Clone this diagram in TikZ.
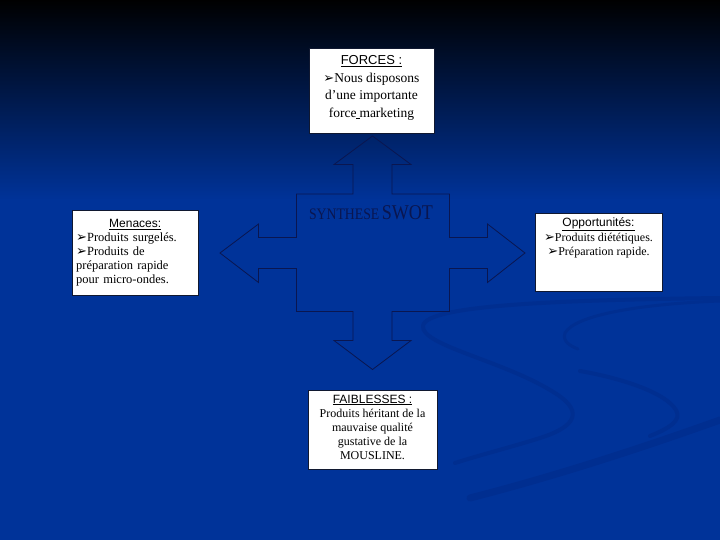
\documentclass[tikz,border=0pt]{standalone}
\usepackage{fontspec}
\setmainfont{Liberation Serif}
\newfontfamily\hdfont{Liberation Sans}
\newfontfamily\symfont{DejaVu Sans}
\newfontfamily\swotfont[FakeStretch=0.86]{Liberation Serif}
\definecolor{bgblue}{RGB}{0,51,153}
\definecolor{bgmid}{RGB}{0,30,92}
\definecolor{navy}{RGB}{10,22,80}
\definecolor{boxline}{RGB}{16,24,48}
\definecolor{swoosh}{RGB}{0,46,144}
\newcommand{\arr}{{\symfont\fontsize{13}{13}\selectfont ➢}}
\begin{document}
\begin{tikzpicture}[x=1pt,y=-1pt,
  box/.style={draw=boxline, fill=white, line width=0.8pt, inner sep=0pt, anchor=north west},
  txt/.style={anchor=north, inner sep=0pt, align=center, text=black},
  sw/.style={draw=swoosh, line cap=round, line join=round}]
\useasboundingbox (0,0) rectangle (720,540);
% background
\shade[top color=black, middle color=bgmid, bottom color=bgblue] (0,0) rectangle (720,200);
\fill[bgblue] (0,199.5) rectangle (720,540);
% swooshes
\draw[sw, line width=4pt] (720,298) .. controls (560,300) and (425,305) .. (423,326)
   .. controls (421,345) and (500,360) .. (550,390)
   .. controls (585,410) and (578,426) .. (540,438)
   .. controls (515,446) and (480,455) .. (455,463);
\draw[sw, line width=3pt] (720,301) .. controls (640,304) and (575,315) .. (565,333) .. controls (562,341) and (570,346) .. (578,349);
\draw[sw, line width=4pt] (580,371) .. controls (620,378) and (665,392) .. (676,410) .. controls (682,420) and (670,428) .. (650,436);
\draw[sw, line width=7pt] (470,498) .. controls (560,475) and (650,445) .. (720,420);
% cross arrow
\draw[navy, line width=0.8pt, line join=miter] (372.5,136) -- (411,164.5) -- (392,164.5) -- (392,194) -- (449.5,194)
  -- (449.5,237.5) -- (487.5,237.5) -- (487.5,224) -- (525,253) -- (487.5,282.5) -- (487.5,268.5) -- (449.5,268.5)
  -- (449.5,311.5) -- (392,311.5) -- (392,340.5) -- (411,340.5) -- (372.5,369.5) -- (334,340.5) -- (353,340.5)
  -- (353,311.5) -- (296.5,311.5) -- (296.5,268.5) -- (258.5,268.5) -- (258.5,282.5) -- (220,253) -- (258.5,224)
  -- (258.5,237.5) -- (296.5,237.5) -- (296.5,194) -- (353,194) -- (353,164.5) -- (334,164.5) -- cycle;
\node[anchor=base, inner sep=0pt, text=navy] (swot) at (371,219.5)
  {{\swotfont\fontsize{16}{16}\selectfont SYNTHESE} {\swotfont\fontsize{21}{21}\selectfont SWOT}};
% boxes
\node[box, minimum width=125, minimum height=85] (forces) at (309,48) {};
\node[txt, font=\fontsize{13.5}{17.5}\selectfont] (forcestext) at (371.5,55.5)
  {{\hdfont\fontsize{13}{17.5}\selectfont\underline{FORCES :}}\\ \arr Nous disposons\\ d’une importante\\ force\underline{\hspace{3pt}}marketing};
\node[box, minimum width=126, minimum height=85] (menaces) at (72,210) {};
\node[anchor=north west, inner sep=0pt, align=left, text width=120, font=\fontsize{12.5}{14}\selectfont] (menacestext) at (76,219.5)
  {\makebox[118pt]{\hdfont\fontsize{12}{14}\selectfont\underline{Menaces:}}\\ \arr Produits surgelés.\\ \arr Produits de\\ préparation rapide\\ pour micro-ondes.};
\node[box, minimum width=127, minimum height=78] (opp) at (535,213) {};
\node[txt, font=\fontsize{12}{14.5}\selectfont] (opptext) at (598.5,217.5)
  {{\hdfont\underline{Opportunités:}}\\ \arr Produits diététiques.\\ \arr Préparation rapide.};
\node[box, minimum width=129, minimum height=79] (faib) at (308,390) {};
\node[txt, font=\fontsize{12}{14.2}\selectfont] (faibtext) at (372.5,394.5)
  {{\hdfont\underline{FAIBLESSES :}}\\ Produits héritant de la\\ mauvaise qualité\\ gustative de la\\ MOUSLINE.};
\end{tikzpicture}
\end{document}
